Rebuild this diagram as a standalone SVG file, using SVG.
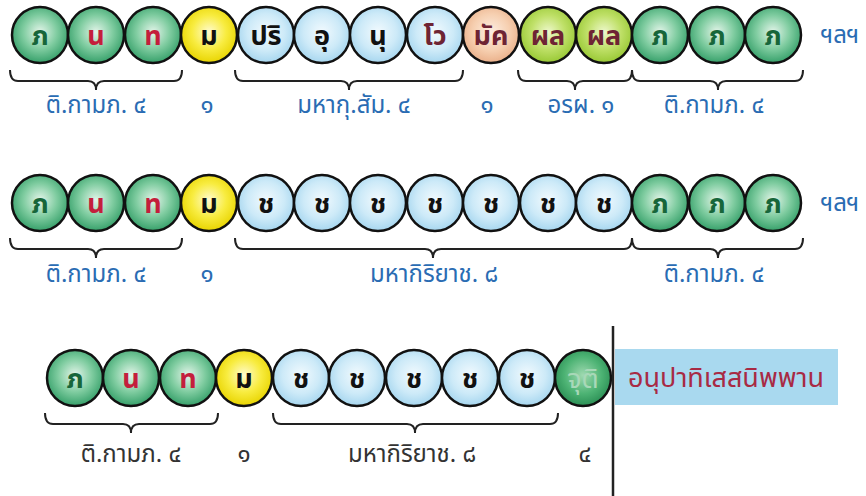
<svg xmlns="http://www.w3.org/2000/svg" width="866" height="496" viewBox="0 0 866 496">
<defs>
<radialGradient id="gG" cx="50%" cy="45%" r="55%"><stop offset="0" stop-color="#e4f5ea"/><stop offset="0.55" stop-color="#7fcca0"/><stop offset="1" stop-color="#36a06a"/></radialGradient>
<radialGradient id="gY" cx="50%" cy="45%" r="55%"><stop offset="0" stop-color="#fffbd0"/><stop offset="0.55" stop-color="#f8ec40"/><stop offset="1" stop-color="#e8d400"/></radialGradient>
<radialGradient id="gB" cx="50%" cy="45%" r="55%"><stop offset="0" stop-color="#f2fafe"/><stop offset="0.6" stop-color="#cdeaf8"/><stop offset="1" stop-color="#a6d6ef"/></radialGradient>
<radialGradient id="gP" cx="50%" cy="45%" r="55%"><stop offset="0" stop-color="#fdeee2"/><stop offset="0.6" stop-color="#f6cfb0"/><stop offset="1" stop-color="#eab08a"/></radialGradient>
<radialGradient id="gL" cx="50%" cy="45%" r="55%"><stop offset="0" stop-color="#eef8cc"/><stop offset="0.55" stop-color="#bfe068"/><stop offset="1" stop-color="#98c834"/></radialGradient>
<radialGradient id="gD" cx="50%" cy="45%" r="55%"><stop offset="0" stop-color="#9fd9b0"/><stop offset="0.6" stop-color="#4db374"/><stop offset="1" stop-color="#2b8f55"/></radialGradient>
</defs>
<style>
circle{stroke:#111;stroke-width:2.5}
.g{fill:url(#gG)}.y{fill:url(#gY)}.b{fill:url(#gB)}.p{fill:url(#gP)}.l{fill:url(#gL)}.d{fill:url(#gD)}
.t{font-family:"Noto Sans Thai","Noto Sans","DejaVu Sans",sans-serif;font-size:27px;font-weight:bold;text-anchor:middle}
.tg{fill:#17663a}.tr{fill:#c41e3c}.tk{fill:#111}.tm{fill:#6e2434}.tj{fill:#a8d8b8;font-weight:normal}
.lab{font-family:"Noto Sans Thai","Noto Sans","DejaVu Sans",sans-serif;font-size:24px;fill:#2a6cb3;text-anchor:middle}
.lab3{fill:#333}
.br{fill:none;stroke:#222;stroke-width:2}
</style>

<g id="row1">
<g id="r1n1"><circle class="g" cx="40" cy="35" r="28"/><text class="t tg" x="40" y="45">ภ</text></g>
<g id="r1n2"><circle class="g" cx="96" cy="35" r="28"/><text class="t tr" x="96" y="45">น</text></g>
<g id="r1n3"><circle class="g" cx="153" cy="35" r="28"/><text class="t tr" x="153" y="45">ท</text></g>
<g id="r1n4"><circle class="y" cx="209" cy="35" r="28"/><text class="t tk" x="209" y="45">ม</text></g>
<g id="r1n5"><circle class="b" cx="266" cy="35" r="28"/><text class="t tk" x="266" y="45">ปริ</text></g>
<g id="r1n6"><circle class="b" cx="322" cy="35" r="28"/><text class="t tk" x="322" y="45">อุ</text></g>
<g id="r1n7"><circle class="b" cx="378" cy="35" r="28"/><text class="t tk" x="378" y="45">นุ</text></g>
<g id="r1n8"><circle class="b" cx="435" cy="35" r="28"/><text class="t tm" x="435" y="45">โว</text></g>
<g id="r1n9"><circle class="p" cx="491" cy="35" r="28"/><text class="t tm" x="491" y="45">มัค</text></g>
<g id="r1n10"><circle class="l" cx="548" cy="35" r="28"/><text class="t tm" x="548" y="45">ผล</text></g>
<g id="r1n11"><circle class="l" cx="604" cy="35" r="28"/><text class="t tm" x="604" y="45">ผล</text></g>
<g id="r1n12"><circle class="g" cx="660" cy="35" r="28"/><text class="t tg" x="660" y="45">ภ</text></g>
<g id="r1n13"><circle class="g" cx="717" cy="35" r="28"/><text class="t tg" x="717" y="45">ภ</text></g>
<g id="r1n14"><circle class="g" cx="773" cy="35" r="28"/><text class="t tg" x="773" y="45">ภ</text></g>
<text class="lab" x="840" y="43">ฯลฯ</text>
<text class="lab" x="96" y="113">ติ.กามภ. ๔</text>
<text class="lab" x="207" y="113">๑</text>
<text class="lab" x="354" y="113">มหากุ.สัม. ๔</text>
<text class="lab" x="487" y="113">๑</text>
<text class="lab" x="581" y="113">อรผ. ๑</text>
<text class="lab" x="714" y="113">ติ.กามภ. ๔</text>
</g>

<g id="row2">
<g id="r2n1"><circle class="g" cx="40" cy="203" r="28"/><text class="t tg" x="40" y="213">ภ</text></g>
<g id="r2n2"><circle class="g" cx="96" cy="203" r="28"/><text class="t tr" x="96" y="213">น</text></g>
<g id="r2n3"><circle class="g" cx="153" cy="203" r="28"/><text class="t tr" x="153" y="213">ท</text></g>
<g id="r2n4"><circle class="y" cx="209" cy="203" r="28"/><text class="t tk" x="209" y="213">ม</text></g>
<g id="r2n5"><circle class="b" cx="266" cy="203" r="28"/><text class="t tk" x="266" y="213">ช</text></g>
<g id="r2n6"><circle class="b" cx="322" cy="203" r="28"/><text class="t tk" x="322" y="213">ช</text></g>
<g id="r2n7"><circle class="b" cx="378" cy="203" r="28"/><text class="t tk" x="378" y="213">ช</text></g>
<g id="r2n8"><circle class="b" cx="435" cy="203" r="28"/><text class="t tk" x="435" y="213">ช</text></g>
<g id="r2n9"><circle class="b" cx="491" cy="203" r="28"/><text class="t tk" x="491" y="213">ช</text></g>
<g id="r2n10"><circle class="b" cx="548" cy="203" r="28"/><text class="t tk" x="548" y="213">ช</text></g>
<g id="r2n11"><circle class="b" cx="604" cy="203" r="28"/><text class="t tk" x="604" y="213">ช</text></g>
<g id="r2n12"><circle class="g" cx="660" cy="203" r="28"/><text class="t tg" x="660" y="213">ภ</text></g>
<g id="r2n13"><circle class="g" cx="717" cy="203" r="28"/><text class="t tg" x="717" y="213">ภ</text></g>
<g id="r2n14"><circle class="g" cx="773" cy="203" r="28"/><text class="t tg" x="773" y="213">ภ</text></g>
<text class="lab" x="840" y="211">ฯลฯ</text>
<text class="lab" x="96" y="282">ติ.กามภ. ๔</text>
<text class="lab" x="207" y="282">๑</text>
<text class="lab" x="434" y="282">มหากิริยาช. ๘</text>
<text class="lab" x="714" y="282">ติ.กามภ. ๔</text>
</g>

<g id="row3">
<g id="r3n1"><circle class="g" cx="75" cy="378" r="28"/><text class="t tg" x="75" y="388">ภ</text></g>
<g id="r3n2"><circle class="g" cx="131" cy="378" r="28"/><text class="t tr" x="131" y="388">น</text></g>
<g id="r3n3"><circle class="g" cx="188" cy="378" r="28"/><text class="t tr" x="188" y="388">ท</text></g>
<g id="r3n4"><circle class="y" cx="244" cy="378" r="28"/><text class="t tk" x="244" y="388">ม</text></g>
<g id="r3n5"><circle class="b" cx="301" cy="378" r="28"/><text class="t tk" x="301" y="388">ช</text></g>
<g id="r3n6"><circle class="b" cx="357" cy="378" r="28"/><text class="t tk" x="357" y="388">ช</text></g>
<g id="r3n7"><circle class="b" cx="414" cy="378" r="28"/><text class="t tk" x="414" y="388">ช</text></g>
<g id="r3n8"><circle class="b" cx="470" cy="378" r="28"/><text class="t tk" x="470" y="388">ช</text></g>
<g id="r3n9"><circle class="b" cx="527" cy="378" r="28"/><text class="t tk" x="527" y="388">ช</text></g>
<g id="r3n10"><circle class="d" cx="583" cy="378" r="28"/><text class="t tj" x="583" y="388">จุติ</text></g>
<g id="nibbana"><rect x="615" y="349" width="223" height="56" fill="#a9d9ef"/><text x="628" y="387" font-family="'Noto Sans Thai','Noto Sans','DejaVu Sans',sans-serif" font-size="27" fill="#a82a44">อนุปาทิเสสนิพพาน</text></g>
<text class="lab lab3" x="131" y="462">ติ.กามภ. ๔</text>
<text class="lab lab3" x="244" y="462">๑</text>
<text class="lab lab3" x="412" y="462">มหากิริยาช. ๘</text>
<text class="lab lab3" x="585" y="462">๔</text>
</g>

<g id="connectors">
<path class="br" d="M10,70 Q10,81 18,81 L88,81 Q96,81 96,90 Q96,81 104,81 L174,81 Q182,81 182,70"/>
<path class="br" d="M235,70 Q235,81 243,81 L341,81 Q349,81 349,90 Q349,81 357,81 L455,81 Q463,81 463,70"/>
<path class="br" d="M518,70 Q518,81 526,81 L567,81 Q575,81 575,90 Q575,81 583,81 L624,81 Q632,81 632,70"/>
<path class="br" d="M632,70 Q632,81 640,81 L710,81 Q718,81 718,90 Q718,81 726,81 L795,81 Q803,81 803,70"/>
<path class="br" d="M10,238 Q10,249 18,249 L88,249 Q96,249 96,258 Q96,249 104,249 L174,249 Q182,249 182,238"/>
<path class="br" d="M235,238 Q235,249 243,249 L425,249 Q433,249 433,258 Q433,249 441,249 L624,249 Q632,249 632,238"/>
<path class="br" d="M632,238 Q632,249 640,249 L710,249 Q718,249 718,258 Q718,249 726,249 L795,249 Q803,249 803,238"/>
<path class="br" d="M45,413 Q45,424 53,424 L123,424 Q131,424 131,433 Q131,424 139,424 L210,424 Q218,424 218,413"/>
<path class="br" d="M273,413 Q273,424 281,424 L407,424 Q415,424 415,433 Q415,424 423,424 L550,424 Q558,424 558,413"/>
<line x1="613" y1="326" x2="613" y2="496" stroke="#222" stroke-width="2.5"/>
</g>
</svg>
